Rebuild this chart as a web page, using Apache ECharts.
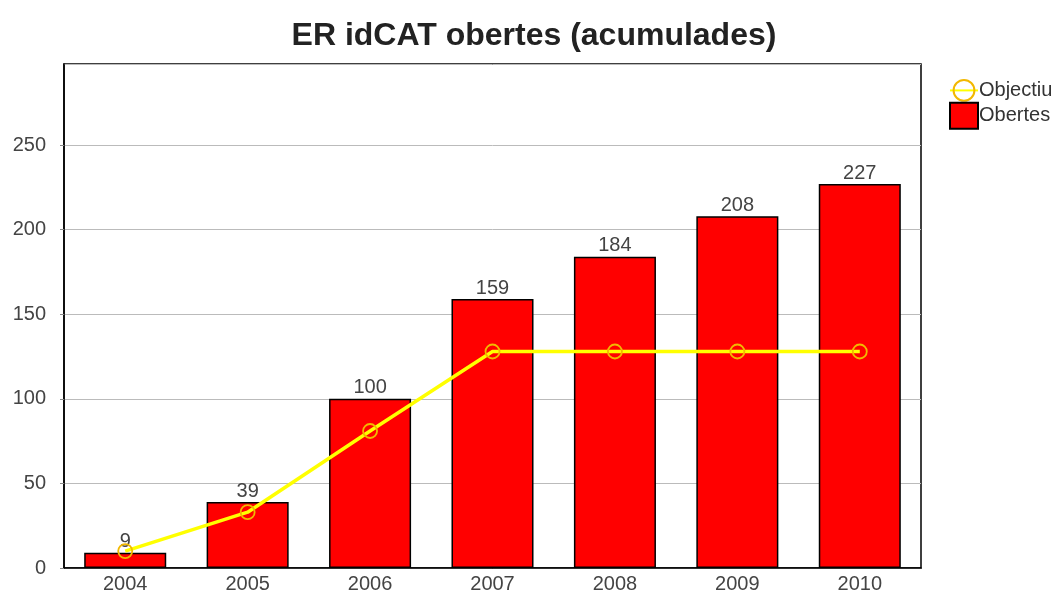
<!DOCTYPE html>
<html>
<head>
<meta charset="utf-8">
<script src="https://cdn.jsdelivr.net/npm/echarts@6/dist/echarts.min.js"></script>
<style>
  html, body { margin: 0; padding: 0; background: #fff; }
  #chart { width: 1059px; height: 594px; }
</style>
</head>
<body>
<div id="chart"></div>
<script>
var years = ['2004', '2005', '2006', '2007', '2008', '2009', '2010'];
var obertes = [9, 39, 100, 159, 184, 208, 227];
var objectiu = [10, 33, 81, 128, 128, 128, 128];

var myChart = echarts.init(document.getElementById('chart'));
var option = {
  animation: false,
  backgroundColor: '#fff',
  textStyle: { fontFamily: '"Liberation Sans", Arial, sans-serif' },
  title: {
    text: 'ER idCAT obertes (acumulades)',
    left: 529,
    textAlign: 'center',
    top: 15,
    textStyle: { fontSize: 32, fontWeight: 'bold', color: '#222' }
  },
  legend: {
    orient: 'vertical',
    left: 944,
    top: 74,
    itemGap: 0,
    itemWidth: 28,
    itemHeight: 26,
    textStyle: { fontSize: 20, color: '#333', padding: [0, 0, 0, -4] },
    data: [
      { name: 'Objectiu' },
      { name: 'Obertes', icon: 'rect' }
    ]
  },
  grid: {
    left: 64,
    right: 138,
    top: 64,
    bottom: 26,
    show: true,
    borderColor: '#000',
    borderWidth: 1.5,
    containLabel: false
  },
  xAxis: {
    type: 'category',
    data: years,
    axisLine: { lineStyle: { color: '#000', width: 1.5 } },
    axisTick: { show: false },
    axisLabel: { fontSize: 20, color: '#444', margin: 6 }
  },
  yAxis: {
    type: 'value',
    min: 0,
    max: 298,
    interval: 50,
    axisLine: { show: true, lineStyle: { color: '#000', width: 1.5 } },
    axisTick: { show: true, length: 4, lineStyle: { color: '#888' } },
    axisLabel: { fontSize: 20, color: '#444', margin: 18, showMaxLabel: false },
    splitLine: { lineStyle: { color: '#bbb', width: 1 } }
  },
  series: [
    {
      name: 'Obertes',
      type: 'bar',
      data: obertes,
      barWidth: '67%',
      itemStyle: { color: '#ff0000', borderColor: '#000', borderWidth: 1.5 },
      label: { show: true, position: 'top', fontSize: 20, color: '#444', distance: 1 },
      z: 2
    },
    {
      name: 'Objectiu',
      type: 'line',
      data: objectiu,
      symbol: 'circle',
      symbolSize: 14,
      lineStyle: { color: '#ffff00', width: 3.5 },
      itemStyle: { color: 'rgba(0,0,0,0)', borderColor: '#f2b800', borderWidth: 1.8 },
      z: 3
    }
  ]
};
myChart.setOption(option);
</script>
</body>
</html>
